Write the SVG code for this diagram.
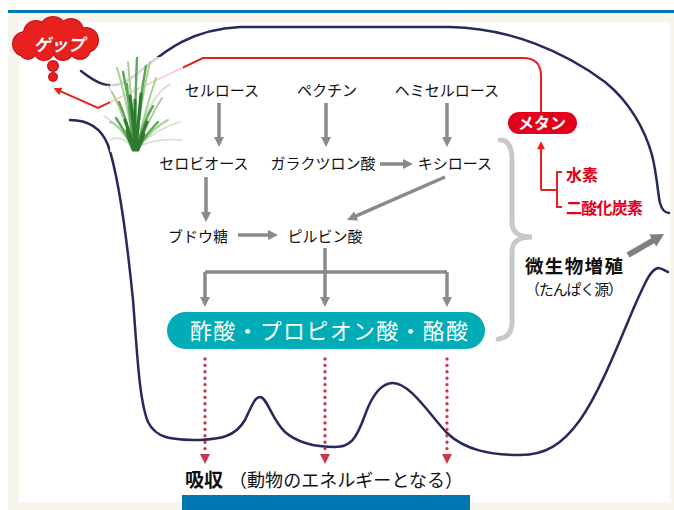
<svg xmlns="http://www.w3.org/2000/svg" width="674" height="510" viewBox="0 0 674 510">
  <style>
    .lbl { font-family: "Noto Sans CJK JP", "Noto Sans", sans-serif; font-size: 15px; fill: #111; text-anchor: middle; }
    .body { fill: none; stroke: #252a5a; stroke-width: 2.5; stroke-linecap: round; }
    .flow { fill: none; stroke: #8a8a8a; stroke-width: 3.5; marker-end: url(#grayHead); }
    .dots { fill: none; stroke: #c9374d; stroke-width: 3.4; stroke-linecap: round; stroke-dasharray: 0 6.4; }
    .red { fill: none; stroke: #e8201e; stroke-width: 2; }
    .redtxt { font-family: "Noto Sans CJK JP", sans-serif; font-weight: bold; fill: #e2001a; font-size: 16px; }
    .blade { fill: none; stroke-linecap: round; }
  </style>
  <defs>
    <marker id="grayHead" viewBox="0 0 10 10" refX="3" refY="5" markerWidth="10" markerHeight="10" markerUnits="userSpaceOnUse" orient="auto">
      <path d="M0,0 L10,5 L0,10 z" fill="#8a8a8a"/>
    </marker>
    <marker id="redHead" viewBox="0 0 10 10" refX="4" refY="5" markerWidth="9" markerHeight="8" markerUnits="userSpaceOnUse" orient="auto">
      <path d="M0,0 L10,5 L0,10 z" fill="#e8201e"/>
    </marker>
    <marker id="dotHead" viewBox="0 0 10 10" refX="2" refY="5" markerWidth="10" markerHeight="10" markerUnits="userSpaceOnUse" orient="auto">
      <path d="M0,0 L10,5 L0,10 z" fill="#c9374d"/>
    </marker>
    <filter id="soft" x="-10%" y="-10%" width="120%" height="120%">
      <feGaussianBlur stdDeviation="0.6"/>
    </filter>
  </defs>

  <!-- page frame -->
  <rect x="0" y="0" width="674" height="510" fill="#ffffff"/>
  <rect x="8" y="13" width="666" height="497" fill="#f8f5ec"/>
  <rect x="8" y="10" width="666" height="3" fill="#0077b3"/>
  <rect x="19" y="22" width="651" height="480" fill="#ffffff"/>
  <rect x="182" y="495" width="288" height="15" fill="#0077b3"/>

  <!-- rumen outline -->
  <g id="rumen">
    <path class="body" d="M81,71 C95,82 108,90 125,82 C150,68 175,30 240,27 L450,27 C510,28 565,52 605,82 C630,102 645,130 652,155 C657,175 658,195 660,203 C662,210 665,213 669,213"/>
    <path class="body" d="M70,120 C85,120 100,125 108,145 C120,180 128,250 133,300 C137,350 139,400 148,422 C156,438 170,440 200,440 C220,439 235,437 245,420 C252,405 255,397 260,397 C267,397 272,420 285,432 C300,445 320,447 335,447 C350,447 356,440 365,415 C374,390 384,383 393,383 C410,383 430,415 447,433 C465,450 490,455 520,455 C545,455 562,445 580,420 C600,392 620,340 635,305 C645,283 650,270 658,268 C662,268 665,271 668,272"/>
  </g>

  <!-- connectors -->
  <g id="connectors">
    <line class="flow" x1="219" y1="103" x2="219" y2="140"/>
    <line class="flow" x1="326" y1="103" x2="326" y2="140"/>
    <line class="flow" x1="447" y1="103" x2="447" y2="140"/>
    <line class="flow" x1="206" y1="177" x2="206" y2="215"/>
    <line class="flow" x1="380" y1="164" x2="406" y2="164"/>
    <line class="flow" x1="238" y1="235" x2="271" y2="235"/>
    <line class="flow" x1="445" y1="177" x2="353.4" y2="217.2"/>
    <path d="M325,248 L325,272 M205,272 L447,272" fill="none" stroke="#8a8a8a" stroke-width="3.5"/>
    <line class="flow" x1="205" y1="272" x2="205" y2="300"/>
    <line class="flow" x1="325" y1="272" x2="325" y2="300"/>
    <line class="flow" x1="447" y1="272" x2="447" y2="300"/>

    <!-- absorption -->
    <line class="dots" x1="205" y1="359" x2="205" y2="452"/>
    <line class="dots" x1="325" y1="359" x2="325" y2="452"/>
    <line class="dots" x1="447" y1="359" x2="447" y2="452"/>
    <line x1="205" y1="455" x2="205" y2="456" stroke="#c9374d" stroke-width="1" marker-end="url(#dotHead)"/>
    <line x1="325" y1="455" x2="325" y2="456" stroke="#c9374d" stroke-width="1" marker-end="url(#dotHead)"/>
    <line x1="447" y1="455" x2="447" y2="456" stroke="#c9374d" stroke-width="1" marker-end="url(#dotHead)"/>

    <!-- gas route -->
    <path class="red" d="M541,113 L541,76 Q541,58 523,58 L203,58 L98,108 L57.9,90.2" marker-end="url(#redHead)"/>
    <path class="red" d="M541,190 L541,146" marker-end="url(#redHead)"/>
    <path class="red" d="M541,190 L557,190 M562,172 L557,172 L557,207 L562,207"/>

    <!-- brace -->
    <path d="M500,140 C509,140 512,148 512,160 L512,222 C512,232 518,237 532,237 C518,237 512,242 512,252 L512,322 C512,332 508,338 498,339" fill="none" stroke="#c8c8c8" stroke-width="5" stroke-linecap="round"/>

    <!-- growth arrow -->
    <line x1="628" y1="255" x2="654" y2="240" stroke="#7f7f7f" stroke-width="6"/>
    <polygon points="664,234 656.3,246.6 649.3,234.5" fill="#7f7f7f"/>
  </g>

  <!-- grass -->
  <g id="grass">
    <rect x="110" y="57" width="73" height="95" fill="#ffffff" opacity="0.8"/>
    <g filter="url(#soft)">
      <path class="blade" stroke="#d3ddd0" stroke-width="1.5" d="M138,146 Q158,128 180,122 M132,146 Q118,124 104,116 M139,146 Q160,138 182,140 M131,146 Q120,134 110,140 M136,140 Q150,96 170,84 M134,140 Q118,100 108,86"/>
      <path class="blade" stroke="#a8d098" stroke-width="2" d="M133,148 Q124,115 112,92 M138,148 Q149,118 162,98 M134,148 Q127,100 117,68 M137,148 Q145,110 156,78 M132,148 Q122,126 110,122 M139,148 Q152,128 168,120 M135,148 Q131,95 128,62 M136,148 Q141,100 150,62"/>
      <path class="blade" stroke="#5aa852" stroke-width="2.4" d="M134,148 Q131,110 123,72 M136,148 Q139,105 146,66 M135,148 Q135,100 137,58 M133,148 Q127,120 119,102 M137,148 Q143,122 153,106 M134,148 Q129,112 127,84 M136,148 Q140,112 143,82 M133,148 Q124,130 116,118 M138,148 Q148,132 158,122"/>
      <path class="blade" stroke="#2f7a2f" stroke-width="3" d="M135,150 Q134,125 130,96 M136,150 Q138,125 141,94 M134,150 Q131,135 125,120 M137,150 Q141,136 147,122 M135,150 Q135,128 135,100 M133,150 Q129,140 127,130 M138,150 Q141,142 144,134"/>
    </g>
  </g>

  <!-- burp cloud -->
  <g id="burp">
    <g fill="#c3161b">
      <circle cx="25" cy="44" r="13"/><circle cx="36" cy="33" r="13"/><circle cx="53" cy="30" r="14"/>
      <circle cx="71" cy="31" r="13"/><circle cx="86" cy="40" r="13"/><circle cx="80" cy="49" r="11"/>
      <circle cx="63" cy="50" r="11"/><circle cx="44" cy="50" r="11"/><circle cx="28" cy="51" r="9"/>
      <circle cx="53" cy="66" r="6"/><circle cx="53" cy="77" r="5"/>
    </g>
    <g fill="#e8201e">
      <circle cx="25" cy="44" r="11.8"/><circle cx="36" cy="33" r="11.8"/><circle cx="53" cy="30" r="12.8"/>
      <circle cx="71" cy="31" r="11.8"/><circle cx="86" cy="40" r="11.8"/><circle cx="80" cy="49" r="9.8"/>
      <circle cx="63" cy="50" r="9.8"/><circle cx="44" cy="50" r="9.8"/><circle cx="28" cy="51" r="7.8"/>
      <circle cx="53" cy="66" r="4.8"/><circle cx="53" cy="77" r="3.8"/>
    </g>
    <text x="59" y="51" font-family="Noto Sans CJK JP, sans-serif" font-size="17" font-weight="bold" font-style="italic" fill="#ffffff" text-anchor="middle">ゲップ</text>
  </g>

  <!-- substrates and intermediates -->
  <g id="cellulose"><text class="lbl" x="222" y="96">セルロース</text></g>
  <g id="pectin"><text class="lbl" x="327" y="96">ペクチン</text></g>
  <g id="hemicellulose"><text class="lbl" x="447" y="96">ヘミセルロース</text></g>
  <g id="cellobiose"><text class="lbl" x="204" y="169">セロビオース</text></g>
  <g id="galacturonic"><text class="lbl" x="323" y="169">ガラクツロン酸</text></g>
  <g id="xylose"><text class="lbl" x="455" y="169">キシロース</text></g>
  <g id="glucose"><text class="lbl" x="198" y="242">ブドウ糖</text></g>
  <g id="pyruvate"><text class="lbl" x="325" y="242">ピルビン酸</text></g>

  <!-- volatile fatty acids -->
  <g id="vfa">
    <rect x="167" y="312" width="318" height="37" rx="18.5" fill="#00acb6"/>
    <text x="329" y="339" font-family="Noto Sans CJK JP, sans-serif" font-size="22" fill="#ffffff" text-anchor="middle" textLength="278">酢酸・プロピオン酸・酪酸</text>
  </g>

  <!-- methane -->
  <g id="methane">
    <rect x="508" y="112" width="69" height="22" rx="11" fill="#e2001a"/>
    <text x="542" y="129" font-family="Noto Sans CJK JP, sans-serif" font-size="16" font-weight="bold" fill="#ffffff" text-anchor="middle">メタン</text>
  </g>
  <g id="hydrogen"><text class="redtxt" x="566" y="181">水素</text></g>
  <g id="co2"><text class="redtxt" x="566" y="214" textLength="77">二酸化炭素</text></g>

  <!-- microbial growth -->
  <g id="microbes">
    <text x="525" y="273" font-family="Noto Sans CJK JP, sans-serif" font-size="18.5" font-weight="bold" fill="#111" textLength="98">微生物増殖</text>
    <text x="525" y="295" font-family="Noto Sans CJK JP, sans-serif" font-size="15" fill="#111" textLength="98">（たんぱく源）</text>
  </g>

  <!-- absorption -->
  <g id="absorption">
    <text x="185" y="487" font-family="Noto Sans CJK JP, sans-serif" font-size="19" font-weight="bold" fill="#111">吸収</text>
    <text x="229" y="487" font-family="Noto Sans CJK JP, sans-serif" font-size="18" fill="#111" textLength="234">（動物のエネルギーとなる）</text>
  </g>
</svg>
